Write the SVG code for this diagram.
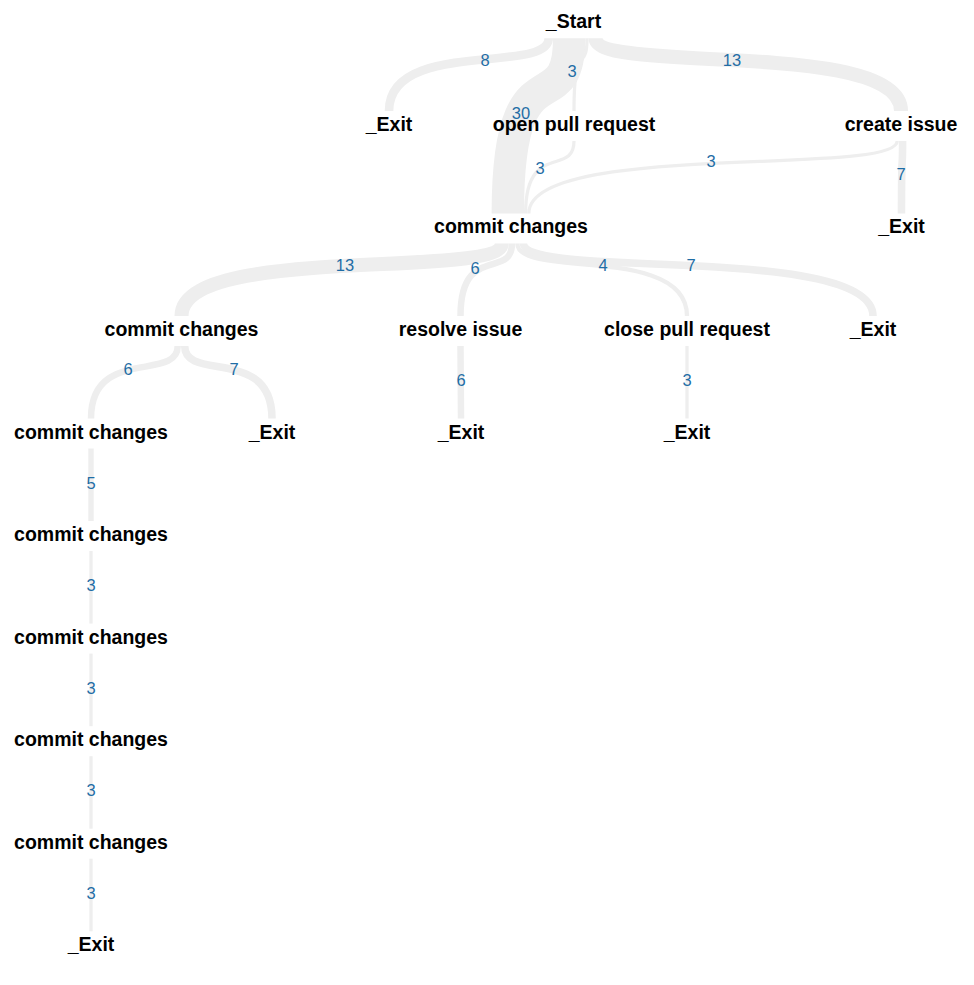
<svg xmlns="http://www.w3.org/2000/svg" width="974" height="985" viewBox="0 0 974 985">
<style>
.e{fill:none;stroke:#eeeeee;stroke-linecap:butt}
.n{font-family:"Liberation Sans",Arial,sans-serif;font-weight:bold;font-size:19.5px;fill:#000;text-anchor:middle}
.l{font-family:"Liberation Sans",Arial,sans-serif;font-size:16.5px;fill:#1f6da5;text-anchor:middle}
</style>
<rect width="974" height="985" fill="#fff"/>
<g id="connectors">
<path class="e" stroke-width="8.64" d="M548.7,38.3 C548.7,74.6 389,38.3 389,110.9"/>
<path class="e" stroke-width="32.4" d="M569.2,38.3 C569.2,125.9 507.8,38.3 507.8,213.4"/>
<path class="e" stroke-width="3.24" d="M587,38.3 C587,74.6 574,38.3 574,110.9"/>
<path class="e" stroke-width="14.04" d="M595.6,38.3 C595.6,74.6 901,38.3 901,110.9"/>
<path class="e" stroke-width="3.24" d="M574,140.9 C574,177.1 525.6,140.9 525.6,213.4"/>
<path class="e" stroke-width="3.24" d="M897.2,140.9 C897.2,177.1 528.8,140.9 528.8,213.4"/>
<path class="e" stroke-width="7.56" d="M902.6,140.9 C902.6,177.1 901.5,140.9 901.5,213.4"/>
<path class="e" stroke-width="14.04" d="M501.8,243.4 C501.8,279.7 181.5,243.4 181.5,316"/>
<path class="e" stroke-width="6.48" d="M512,243.4 C512,279.7 460.5,243.4 460.5,316"/>
<path class="e" stroke-width="4.32" d="M517.4,243.4 C517.4,279.7 687,243.4 687,316"/>
<path class="e" stroke-width="7.56" d="M523.4,243.4 C523.4,279.7 873,243.4 873,316"/>
<path class="e" stroke-width="6.48" d="M177.7,346 C177.7,382.2 91,346 91,418.5"/>
<path class="e" stroke-width="7.56" d="M184.7,346 C184.7,382.2 272,346 272,418.5"/>
<path class="e" stroke-width="6.48" d="M460.5,346 L461,418.5"/>
<path class="e" stroke-width="3.24" d="M687,346 L687,418.5"/>
<path class="e" stroke-width="5.4" d="M91,448.5 L91,521"/>
<path class="e" stroke-width="3.24" d="M91,551 L91,623.6"/>
<path class="e" stroke-width="3.24" d="M91,653.6 L91,726.2"/>
<path class="e" stroke-width="3.24" d="M91,756.2 L91,828.7"/>
<path class="e" stroke-width="3.24" d="M91,858.7 L91,931.3"/>
<g id="edge-labels">
<text class="l" x="485" y="66">8</text>
<text class="l" x="572" y="77">3</text>
<text class="l" x="732" y="66">13</text>
<text class="l" x="521" y="119">30</text>
<text class="l" x="540" y="174">3</text>
<text class="l" x="711" y="167">3</text>
<text class="l" x="901" y="180">7</text>
<text class="l" x="345" y="271">13</text>
<text class="l" x="475" y="274">6</text>
<text class="l" x="603" y="271">4</text>
<text class="l" x="691" y="271">7</text>
<text class="l" x="128" y="375">6</text>
<text class="l" x="234" y="375">7</text>
<text class="l" x="461" y="386">6</text>
<text class="l" x="687" y="386">3</text>
<text class="l" x="91" y="489">5</text>
<text class="l" x="91" y="591">3</text>
<text class="l" x="91" y="694">3</text>
<text class="l" x="91" y="796">3</text>
<text class="l" x="91" y="899">3</text>
</g>
</g>
<g id="start"><text class="n" x="573.5" y="28.3">_Start</text></g>
<g id="exit-1"><text class="n" x="389" y="130.8">_Exit</text></g>
<g id="open-pull-request"><text class="n" x="574" y="130.8">open pull request</text></g>
<g id="create-issue"><text class="n" x="901" y="130.8">create issue</text></g>
<g id="commit-changes-2"><text class="n" x="511" y="233.4">commit changes</text></g>
<g id="exit-2"><text class="n" x="901.5" y="233.4">_Exit</text></g>
<g id="commit-changes-3"><text class="n" x="181.5" y="336">commit changes</text></g>
<g id="resolve-issue"><text class="n" x="460.5" y="336">resolve issue</text></g>
<g id="close-pull-request"><text class="n" x="687" y="336">close pull request</text></g>
<g id="exit-3"><text class="n" x="873" y="336">_Exit</text></g>
<g id="commit-changes-4"><text class="n" x="91" y="438.5">commit changes</text></g>
<g id="exit-4a"><text class="n" x="272" y="438.5">_Exit</text></g>
<g id="exit-4b"><text class="n" x="461" y="438.5">_Exit</text></g>
<g id="exit-4c"><text class="n" x="687" y="438.5">_Exit</text></g>
<g id="commit-changes-5"><text class="n" x="91" y="541">commit changes</text></g>
<g id="commit-changes-6"><text class="n" x="91" y="643.6">commit changes</text></g>
<g id="commit-changes-7"><text class="n" x="91" y="746.2">commit changes</text></g>
<g id="commit-changes-8"><text class="n" x="91" y="848.7">commit changes</text></g>
<g id="exit-9"><text class="n" x="91" y="951.3">_Exit</text></g>
</svg>
